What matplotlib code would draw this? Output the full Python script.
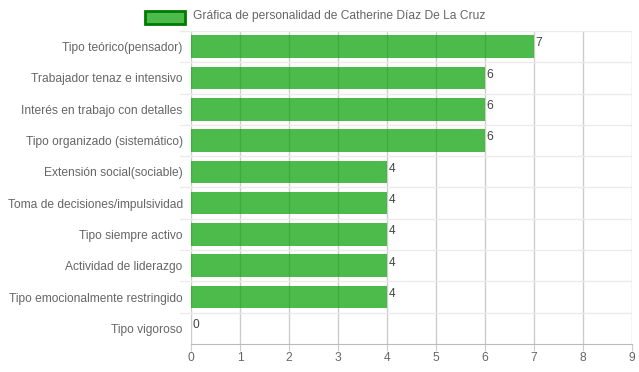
import matplotlib
matplotlib.use("Agg")
import matplotlib.pyplot as plt
from matplotlib.patches import Rectangle

categories = [
    "Tipo teórico(pensador)",
    "Trabajador tenaz e intensivo",
    "Interés en trabajo con detalles",
    "Tipo organizado (sistemático)",
    "Extensión social(sociable)",
    "Toma de decisiones/impulsividad",
    "Tipo siempre activo",
    "Actividad de liderazgo",
    "Tipo emocionalmente restringido",
    "Tipo vigoroso",
]
values = [7, 6, 6, 6, 4, 4, 4, 4, 4, 0]
x_ticks = list(range(0, 10))
series_label = "Gráfica de personalidad de Catherine Díaz De La Cruz"

plt.rcParams['font.family'] = ['Liberation Sans', 'DejaVu Sans']
FS = 8.64  # 12px

fig = plt.figure(figsize=(6.39, 3.72), dpi=100)
ax = fig.add_axes([191/639, 1 - 344/372, (632 - 191)/639, (344 - 31)/372])

bar_color = (0.0, 0.62, 0.0, 0.7)
ypos = list(range(len(categories)))
ax.barh(ypos, values, height=0.72, color=bar_color, zorder=2, linewidth=0)

ax.set_xlim(0, 9)
ax.set_ylim(len(categories) - 0.5, -0.5)
ax.set_xticks(x_ticks)
ax.set_xticklabels([str(t) for t in x_ticks], fontsize=FS, color='#666666')
ax.set_yticks(ypos)
ax.set_yticklabels(categories, fontsize=FS, color='#666666')

# grids
for t in x_ticks:
    ax.axvline(t, color='#cccccc', lw=1, zorder=1)
for k in range(len(categories)):
    ax.axhline(k - 0.5, color='#ebebeb', lw=1, zorder=1)

for s in ['top', 'right', 'left']:
    ax.spines[s].set_visible(False)
ax.spines['bottom'].set_color('#bbbbbb')
ax.tick_params(axis='x', length=5, color='#cccccc', pad=1)
ax.tick_params(axis='y', length=0, pad=6)

# horizontal tick marks left of axis (Chart.js style)
for k in range(len(categories)):
    y = k - 0.5
    ax.plot([-0.22, 0], [y, y], color='#ebebeb', lw=1, clip_on=False, zorder=1)

# value labels
for i, v in enumerate(values):
    ax.annotate(str(v), xy=(v, i - 0.36), xytext=(1.0, -1.5), textcoords='offset points',
                ha='left', va='top', fontsize=FS, color='#444444', zorder=3)

# legend
fig.patches.append(Rectangle((145/639, 1 - 24/372), 40/639, 13/372,
                             transform=fig.transFigure, facecolor=bar_color,
                             edgecolor='#007a00', lw=2))
fig.text(193/639, 1 - 16/372, series_label, fontsize=FS, color='#666666',
         ha='left', va='center')

fig.savefig("out.png", dpi=100)
